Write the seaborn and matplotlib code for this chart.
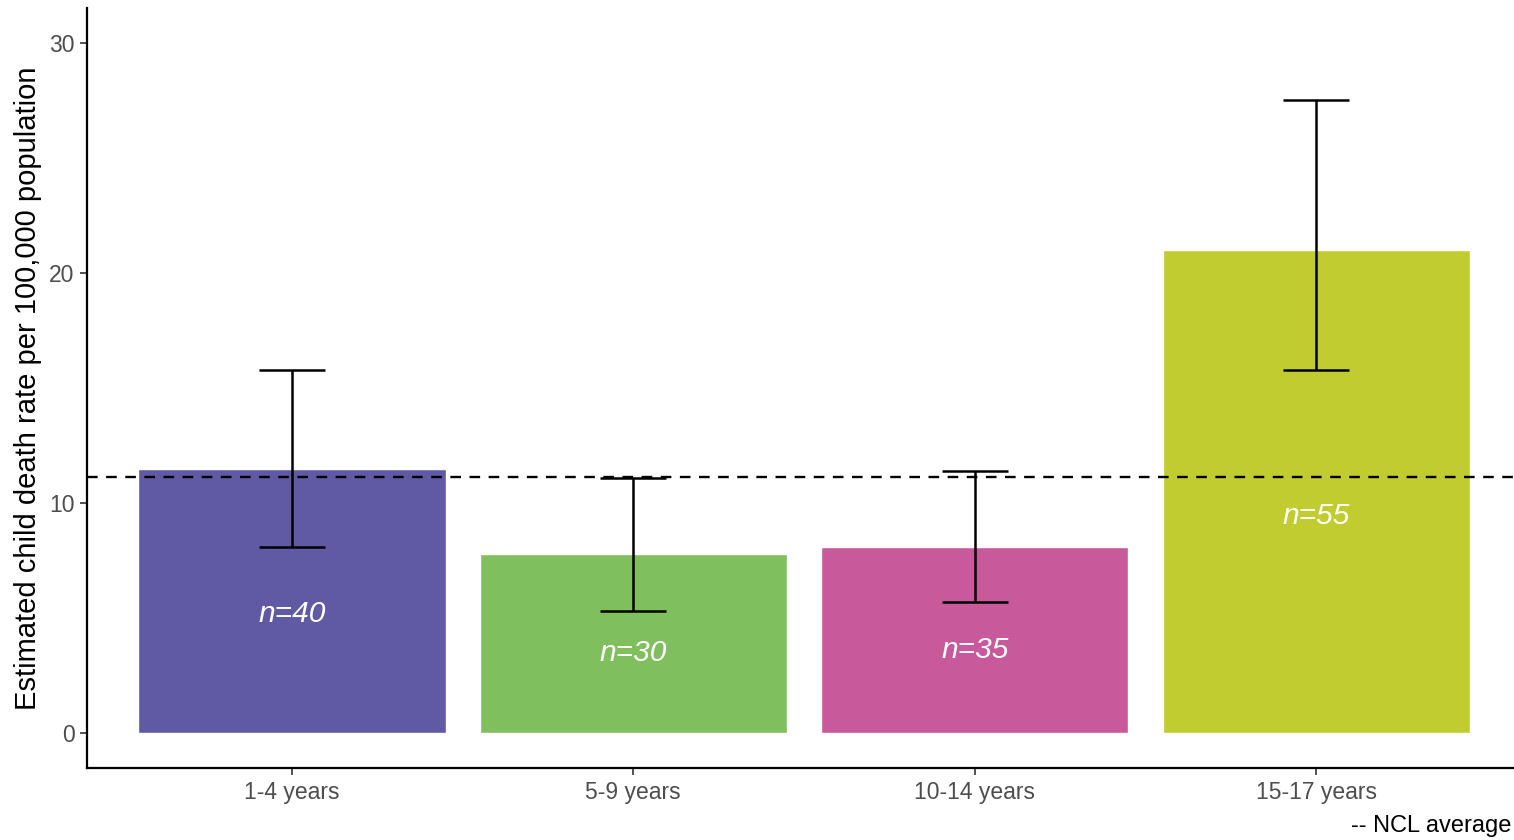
import matplotlib
matplotlib.use("Agg")
import matplotlib.pyplot as plt
import seaborn as sns
import pandas as pd
import numpy as np

# Child death rates by age band with 95% confidence intervals
age_groups = ["1-4 years", "5-9 years", "10-14 years", "15-17 years"]
rates = [11.5, 7.8, 8.1, 21.0]
ci_lower = [8.1, 5.3, 5.7, 15.8]
ci_upper = [15.8, 11.1, 11.4, 27.5]
deaths = [40, 30, 35, 55]
ncl_average = 11.15
bar_colors = ["#6059A4", "#7FBF5E", "#C85A9C", "#C1CC30"]

df = pd.DataFrame({"age": age_groups, "rate": rates,
                   "lo": ci_lower, "hi": ci_upper, "n": deaths})

sns.set_theme(style="white")
plt.rcParams["font.family"] = ["Liberation Sans", "DejaVu Sans"]

fig = plt.figure(figsize=(15.14, 8.4), dpi=100)
ax = fig.add_axes([87 / 1514, 72 / 840, 1434 / 1514, 760 / 840])

sns.barplot(data=df, x="age", y="rate", hue="age", palette=bar_colors,
            width=0.9, saturation=1, legend=False, ax=ax, errorbar=None)

xs = np.arange(len(age_groups))
ax.errorbar(xs, df["rate"], yerr=[df["rate"] - df["lo"], df["hi"] - df["rate"]],
            fmt="none", ecolor="black", elinewidth=1.8, capsize=24, capthick=1.8,
            zorder=3)

ax.axhline(ncl_average, color="black", linestyle=(0, (4.5, 3.6)), linewidth=1.7,
           zorder=4)

for x, r, n in zip(xs, df["rate"], df["n"]):
    ax.text(x, r * 0.45, f"n={n}", ha="center", va="center", color="white",
            fontsize=21.5, style="italic", zorder=5)

ax.set_xlim(-0.6, 3.6)
ax.set_ylim(-1.5, 31.5)
ax.set_yticks([0, 10, 20, 30])
ax.set_xlabel("")
ax.set_ylabel("Estimated child death rate per 100,000 population",
              fontsize=21, color="black", labelpad=5)

for side in ["top", "right"]:
    ax.spines[side].set_visible(False)
for side in ["left", "bottom"]:
    ax.spines[side].set_color("black")
    ax.spines[side].set_linewidth(1.6)

ax.tick_params(axis="both", which="both", length=5, width=1.2, color="#333333",
               labelcolor="#4D4D4D", labelsize=16.5, direction="out",
               left=True, bottom=True)
ax.tick_params(axis="x", pad=4)
ax.tick_params(axis="y", pad=4)

fig.text(1511 / 1514, 1 - 826 / 840, "-- NCL average", ha="right", va="center",
         fontsize=17, color="black")

fig.savefig("out.png", dpi=100)
